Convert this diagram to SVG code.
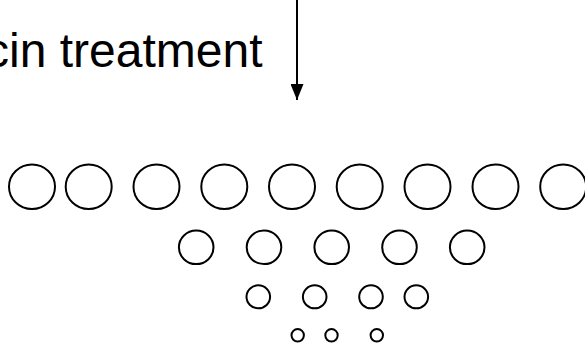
<svg xmlns="http://www.w3.org/2000/svg" width="585" height="344" viewBox="0 0 585 344">
  <style>
    .cell { fill: none; stroke: #000; stroke-width: 2; }
    .label { font-family: "Liberation Sans", Arial, sans-serif; font-size: 48px; fill: #000; }
    .flow { stroke: #000; stroke-width: 2; fill: none; }
  </style>
  <defs>
    <marker id="arrowhead" markerWidth="16" markerHeight="13" refX="16" refY="6.5" orient="auto" markerUnits="userSpaceOnUse" viewBox="0 0 16 13">
      <polygon points="0,0 16,6.5 0,13" fill="#000"/>
    </marker>
  </defs>

  <g id="label-treatment">
    <text class="label" x="262.5" y="66.5" text-anchor="end">cin treatment</text>
  </g>

  <g id="connectors">
    <line class="flow" x1="297" y1="0" x2="297" y2="100" marker-end="url(#arrowhead)"/>
  </g>

  <!-- row 1: large cells -->
  <g id="row1">
    <ellipse class="cell" cx="32" cy="186.7" rx="23" ry="22.3"/>
    <ellipse class="cell" cx="88.7" cy="186.7" rx="23" ry="22.3"/>
    <ellipse class="cell" cx="156.5" cy="186.7" rx="23" ry="22.3"/>
    <ellipse class="cell" cx="224.3" cy="186.7" rx="23" ry="22.3"/>
    <ellipse class="cell" cx="292" cy="186.7" rx="23" ry="22.3"/>
    <ellipse class="cell" cx="359.7" cy="186.7" rx="23" ry="22.3"/>
    <ellipse class="cell" cx="427.5" cy="186.7" rx="23" ry="22.3"/>
    <ellipse class="cell" cx="495.5" cy="186.7" rx="23" ry="22.3"/>
    <ellipse class="cell" cx="563.2" cy="186.7" rx="23" ry="22.3"/>
  </g>

  <!-- row 2: medium cells -->
  <g id="row2">
    <ellipse class="cell" cx="196.2" cy="247.3" rx="17.3" ry="16.8"/>
    <ellipse class="cell" cx="264" cy="247.3" rx="17.3" ry="16.8"/>
    <ellipse class="cell" cx="331.7" cy="247.3" rx="17.3" ry="16.8"/>
    <ellipse class="cell" cx="399.5" cy="247.3" rx="17.3" ry="16.8"/>
    <ellipse class="cell" cx="467.2" cy="247.3" rx="17.3" ry="16.8"/>
  </g>

  <!-- row 3: small cells -->
  <g id="row3">
    <ellipse class="cell" cx="258.3" cy="296.8" rx="11.8" ry="11.5"/>
    <ellipse class="cell" cx="314.7" cy="296.8" rx="11.8" ry="11.5"/>
    <ellipse class="cell" cx="371" cy="296.8" rx="11.8" ry="11.5"/>
    <ellipse class="cell" cx="416.3" cy="296.8" rx="11.8" ry="11.5"/>
  </g>

  <!-- row 4: smallest cells -->
  <g id="row4">
    <ellipse class="cell" cx="297.7" cy="335.3" rx="6.2" ry="6.2"/>
    <ellipse class="cell" cx="331.5" cy="335.3" rx="6.2" ry="6.2"/>
    <ellipse class="cell" cx="376.8" cy="335.3" rx="6.2" ry="6.2"/>
  </g>
</svg>
